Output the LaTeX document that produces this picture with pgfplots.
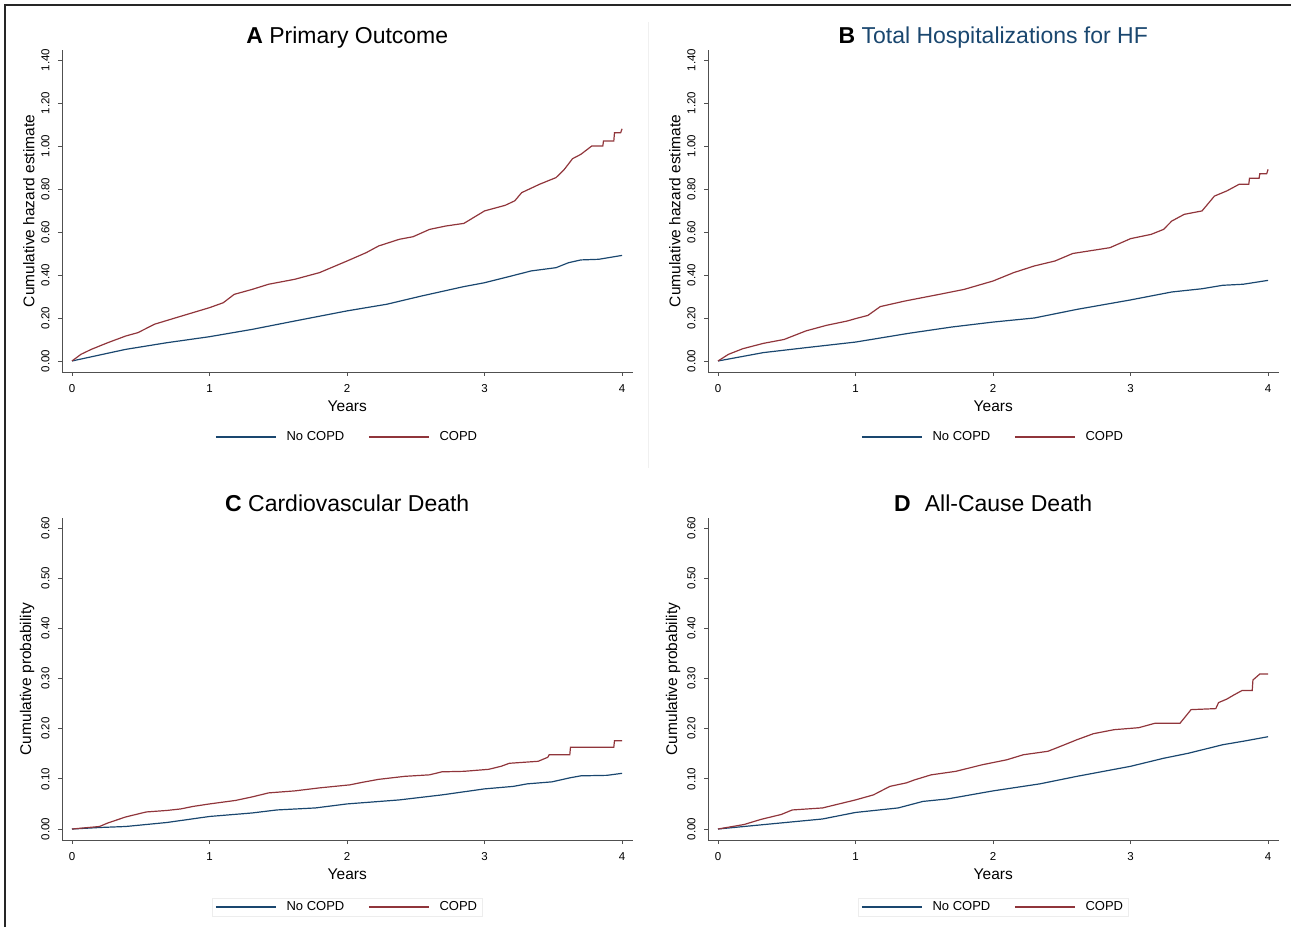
\documentclass[border=0pt]{standalone}
\usepackage{fontspec}
\setmainfont{Liberation Sans}
\usepackage{pgfplots}
\pgfplotsset{compat=1.18}

\definecolor{snavy}{RGB}{26,71,111}
\definecolor{smaroon}{RGB}{144,53,59}
\definecolor{axgray}{RGB}{80,80,80}

\pgfplotsset{
  km/.style={
    scale only axis, width=570.5pt, height=322pt,
    axis x line*=bottom, axis y line*=left,
    axis line style={axgray, line width=0.9pt},
    tick style={axgray, line width=0.9pt},
    tick align=outside, major tick length=4pt,
    xmin=-0.0727, xmax=4.076, xtick={0,1,2,3,4},
    /pgf/number format/assume math mode=true,
    xticklabel style={yshift=-5pt, font=\fontsize{11.5}{12}\selectfont},
    yticklabel style={/pgf/number format/fixed, /pgf/number format/fixed zerofill,
      /pgf/number format/precision=2,
      xshift=-5pt, rotate=90, anchor=south, font=\fontsize{11.5}{12}\selectfont},
    xlabel={Years},
    xlabel style={yshift=-1pt},
    label style={font=\fontsize{15.5}{17}\selectfont},
    title style={yshift=-8pt, text depth=4.8pt, font=\fontsize{23}{25}\selectfont},
    legend columns=2,
    legend style={at={(0.5,-0.2019)}, anchor=center, draw=none, fill=none,
      font=\fontsize{13}{14}\selectfont,
      /tikz/every odd column/.append style={column sep=8pt},
      /tikz/every even column/.append style={column sep=22pt}},
    legend image code/.code={\draw[#1] (0pt,0pt) -- (60pt,0pt);},
  },
  haz/.style={km, ymin=-0.0512, ymax=1.4465, ytick={0,0.2,...,1.4},
    ylabel={Cumulative hazard estimate}},
  prob/.style={km, ymin=-0.0219, ymax=0.62, ytick={0,0.1,...,0.6},
    ylabel={Cumulative probability}},
  boxleg/.style={legend style={draw=black!7, at={(0.5,-0.2081)}}},
}

\begin{document}
\begin{tikzpicture}
\useasboundingbox (0pt,0pt) rectangle (1291pt,927pt);
\draw[line width=2pt, black!85] (5pt,0pt) -- (5pt,922pt) -- (1291pt,922pt);
\draw[black!6, line width=1pt] (648pt,905pt) -- (648pt,459pt);

% A
\begin{axis}[haz, at={(62pt,555pt)}, anchor=south west,
  title={\textbf{A} Primary Outcome}]
\addplot[snavy, line width=1.2pt] coordinates {
 (0,0) (0.39,0.054) (0.69,0.085) (1.0,0.113) (1.31,0.147) (1.62,0.186)
 (2.0,0.233) (2.29,0.264) (2.54,0.302) (2.85,0.346) (3.0,0.364) (3.15,0.388)
 (3.34,0.419) (3.52,0.434) (3.61,0.457) (3.70,0.47) (3.83,0.473) (4.0,0.491)};
\addplot[smaroon, line width=1.2pt] coordinates {
 (0,0) (0.065,0.031) (0.14,0.054) (0.26,0.085) (0.39,0.116) (0.48,0.132)
 (0.60,0.171) (0.76,0.202) (0.88,0.225) (1.0,0.248) (1.1,0.271) (1.18,0.31)
 (1.31,0.333) (1.43,0.357) (1.62,0.38) (1.80,0.411) (2.0,0.465) (2.14,0.504)
 (2.23,0.535) (2.38,0.566) (2.48,0.578) (2.60,0.612) (2.72,0.628) (2.85,0.64)
 (3.0,0.698) (3.15,0.724) (3.22,0.745) (3.27,0.783) (3.40,0.822) (3.52,0.853)
 (3.58,0.891) (3.64,0.941) (3.70,0.961) (3.78,1.0) (3.86,1.0) (3.865,1.023)
 (3.94,1.023) (3.945,1.062) (3.99,1.062) (4.0,1.08)};
\legend{No COPD, COPD}
\end{axis}

% B
\begin{axis}[haz, at={(708pt,555pt)}, anchor=south west,
  title={\textbf{B} \textcolor{snavy}{Total Hospitalizations for HF}}]
\addplot[snavy, line width=1.2pt] coordinates {
 (0,0) (0.33,0.039) (0.64,0.062) (1.0,0.088) (1.39,0.129) (1.70,0.158)
 (2.0,0.181) (2.30,0.2) (2.61,0.24) (3.0,0.284) (3.30,0.321) (3.52,0.336)
 (3.67,0.352) (3.82,0.357) (4.0,0.375)};
\addplot[smaroon, line width=1.2pt] coordinates {
 (0,0) (0.076,0.031) (0.18,0.057) (0.33,0.082) (0.48,0.1) (0.64,0.14)
 (0.79,0.166) (0.94,0.186) (1.0,0.197) (1.09,0.212) (1.18,0.253) (1.36,0.279)
 (1.61,0.31) (1.79,0.333) (2.0,0.372) (2.15,0.411) (2.30,0.442) (2.45,0.465)
 (2.58,0.5) (2.70,0.512) (2.85,0.527) (3.0,0.569) (3.15,0.589) (3.24,0.612)
 (3.30,0.651) (3.39,0.682) (3.52,0.698) (3.61,0.767) (3.70,0.791) (3.79,0.822)
 (3.86,0.822) (3.865,0.85) (3.935,0.85) (3.94,0.871) (3.99,0.871) (4.0,0.891)};
\legend{No COPD, COPD}
\end{axis}

% C
\begin{axis}[prob, boxleg, at={(62pt,87pt)}, anchor=south west,
  title={\textbf{C} Cardiovascular Death}]
\addplot[snavy, line width=1.2pt] coordinates {
 (0,0) (0.2,0.003) (0.39,0.005) (0.69,0.013) (1.0,0.025) (1.31,0.032)
 (1.49,0.038) (1.77,0.042) (2.0,0.05) (2.38,0.058) (2.69,0.068) (3.0,0.08)
 (3.21,0.085) (3.31,0.09) (3.49,0.094) (3.62,0.102) (3.70,0.106) (3.89,0.107)
 (4.0,0.111)};
\addplot[smaroon, line width=1.2pt] coordinates {
 (0,0) (0.2,0.005) (0.26,0.012) (0.39,0.024) (0.54,0.034) (0.69,0.037)
 (0.79,0.04) (0.88,0.045) (1.0,0.05) (1.19,0.057) (1.31,0.064) (1.43,0.072)
 (1.62,0.076) (1.80,0.082) (2.02,0.088) (2.11,0.093) (2.23,0.099) (2.42,0.105)
 (2.60,0.108) (2.69,0.114) (2.85,0.115) (3.03,0.119) (3.12,0.125) (3.18,0.131)
 (3.39,0.135) (3.46,0.143) (3.47,0.148) (3.62,0.148) (3.625,0.163) (3.94,0.163)
 (3.945,0.176) (4.0,0.176)};
\legend{No COPD, COPD}
\end{axis}

% D
\begin{axis}[prob, boxleg, at={(708pt,87pt)}, anchor=south west,
  title={\textbf{D}\hspace{14pt}All-Cause Death}]
\addplot[snavy, line width=1.2pt] coordinates {
 (0,0) (0.34,0.009) (0.76,0.02) (1.0,0.033) (1.31,0.042) (1.49,0.055)
 (1.67,0.06) (2.0,0.076) (2.34,0.09) (2.61,0.105) (3.0,0.125) (3.24,0.141)
 (3.42,0.151) (3.67,0.168) (3.82,0.175) (4.0,0.184)};
\addplot[smaroon, line width=1.2pt] coordinates {
 (0,0) (0.19,0.009) (0.31,0.019) (0.46,0.029) (0.54,0.038) (0.76,0.042)
 (0.88,0.05) (1.0,0.058) (1.13,0.068) (1.25,0.085) (1.37,0.092) (1.43,0.098)
 (1.55,0.108) (1.73,0.115) (1.92,0.128) (2.10,0.138) (2.22,0.148) (2.40,0.155)
 (2.52,0.168) (2.61,0.178) (2.73,0.19) (2.88,0.198) (3.06,0.202) (3.18,0.211)
 (3.36,0.211) (3.39,0.221) (3.44,0.238) (3.62,0.24) (3.64,0.252) (3.70,0.259)
 (3.75,0.267) (3.81,0.276) (3.885,0.276) (3.89,0.297) (3.94,0.309) (4.0,0.309)};
\legend{No COPD, COPD}
\end{axis}
\end{tikzpicture}
\end{document}
